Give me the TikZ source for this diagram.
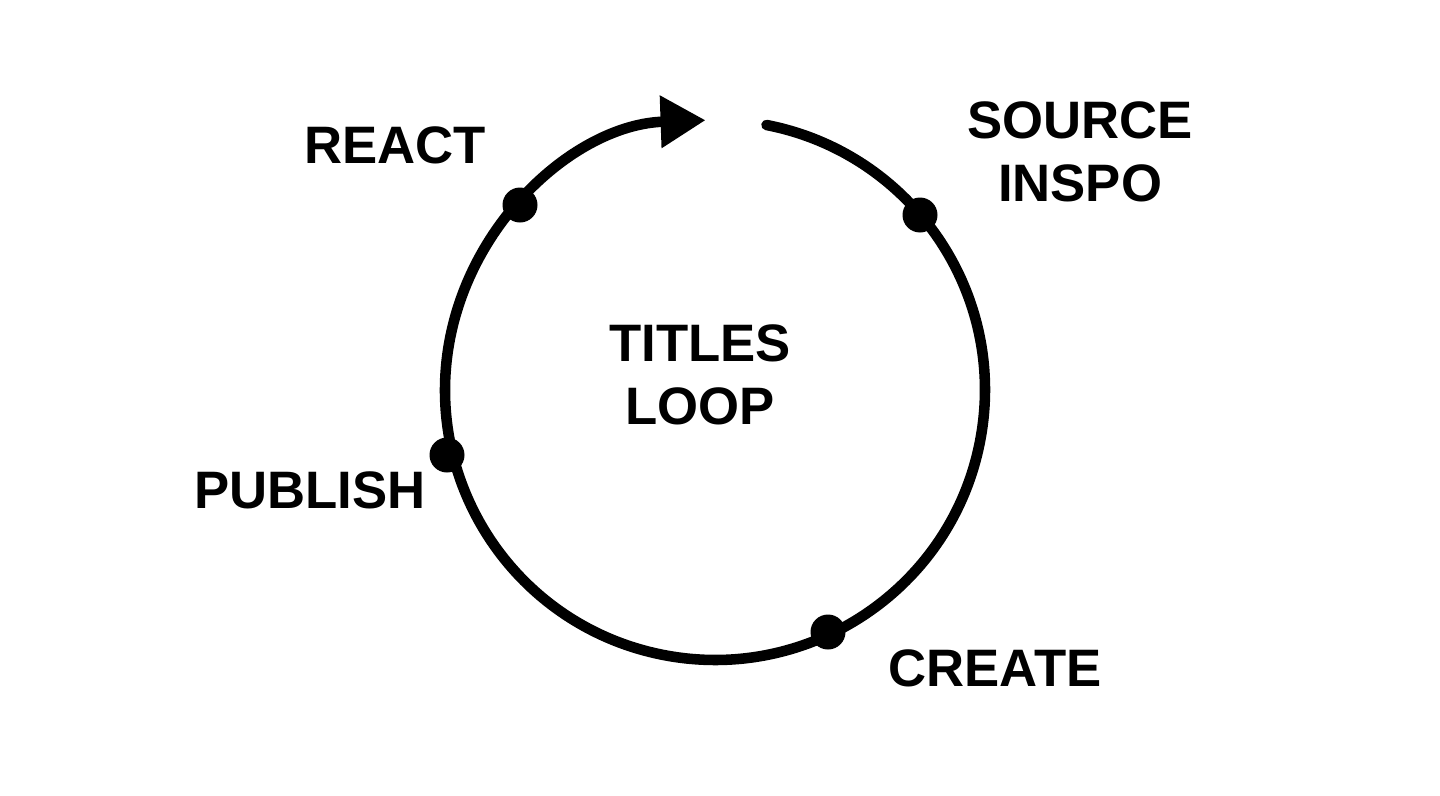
\documentclass[tikz,border=0pt]{standalone}
\usepackage{fontspec}
\setmainfont{Liberation Sans}
\usetikzlibrary{arrows.meta}
\begin{document}
\begin{tikzpicture}[
  x=0.02cm, y=-0.02cm,
  label_txt/.style={font=\fontsize{30}{36}\selectfont\bfseries, text centered, align=center},
  loop_line/.style={draw, line width=6pt, line cap=round},
  stage_dot/.style={circle, fill=black, inner sep=0pt, minimum size=0.7cm}
  ]
\useasboundingbox (0,0) rectangle (1440,795);

\coordinate (c) at (715,390);
\coordinate (loop_start) at (766.5,125);
\draw [loop_line, -{Triangle[length=0.9cm, width=1.0cm]}]
  (loop_start) arc[start angle=79, end angle=-268, radius=5.4cm];

\node [stage_dot] (react_dot) at ([shift={(-195,-185)}]c) {};
\node [stage_dot] (source_dot) at ([shift={(205,-175)}]c) {};
\node [stage_dot] (publish_dot) at ([shift={(-268,65)}]c) {};
\node [stage_dot] (create_dot) at ([shift={(113,242)}]c) {};

\node [label_txt] (react) at (395,145) {REACT};
\node [label_txt] (source) at (1080,152) {SOURCE\\INSPO};
\node [label_txt] (publish) at (310,490) {PUBLISH};
\node [label_txt] (create) at (995,668) {CREATE};
\node [label_txt] (title) at (700,375) {TITLES\\LOOP};

\end{tikzpicture}
\end{document}
